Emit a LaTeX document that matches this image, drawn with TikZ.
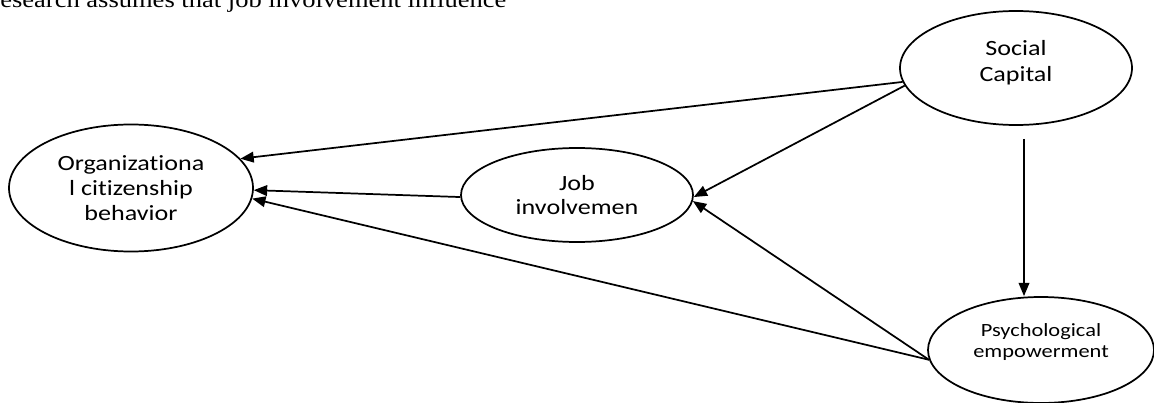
\documentclass[tikz,border=0pt]{standalone}
\usepackage{fontspec}
\setmainfont[FakeStretch=1.2,RawFeature={-liga,-dlig,-calt}]{Carlito}
\newfontfamily\serifstr[FakeStretch=1.15]{Liberation Serif}
\usetikzlibrary{shapes.geometric,arrows.meta}
\begin{document}
\begin{tikzpicture}[x=0.75pt,y=-0.75pt,
  bub/.style={ellipse, draw, line width=1.3pt, inner sep=0pt},
  lbl/.style={align=center, inner sep=0pt, font=\fontsize{16.3}{18.5}\selectfont},
  lbls/.style={align=center, inner sep=0pt, font=\fontsize{14}{15.8}\selectfont},
  arr/.style={-{Triangle[length=10pt,width=8pt]}, line width=1.3pt}]
\useasboundingbox (0,0) rectangle (1154,403);
\clip (0,0) rectangle (1154,403);
\node[anchor=base west, inner sep=0pt, font=\serifstr\fontsize{17.3}{18}\selectfont] (hdr) at (0,8) {esearch assumes that job involvement influence};

\node[bub, minimum width=244*0.75pt, minimum height=127*0.75pt] (ocb) at (131,188) {};
\node[lbl] (ocbt) at (131,188) {Organizationa\\l citizenship\\behavior};
\node[bub, minimum width=232*0.75pt, minimum height=94*0.75pt] (job) at (577,195) {};
\node[lbl] (jobt) at (577,195) {Job\\involvemen};
\node[bub, minimum width=232*0.75pt, minimum height=114*0.75pt] (sc) at (1016,68) {};
\node[lbl, font=\fontsize{16.3}{19.5}\selectfont] (sct) at (1016,63) {Social\\Capital};
\node[bub, minimum width=226*0.75pt, minimum height=106*0.75pt] (ps) at (1041,350) {};
\node[lbls] (pst) at (1041,342) {Psychological\\empowerment};

\draw[arr] (sc.187) -- (ocb.15);
\draw[arr] (sc.189) -- (job.-1);
\draw[arr] (job.181) -- (ocb.-1);
\draw[arr] (ps.185) -- (ocb.-5);
\draw[arr] (ps.185) -- (job.-3);
\draw[arr, shorten <=9.75pt] ([xshift=6pt]sc.south) -- ([xshift=6pt]sc.south |- ps.north);
\end{tikzpicture}
\end{document}
